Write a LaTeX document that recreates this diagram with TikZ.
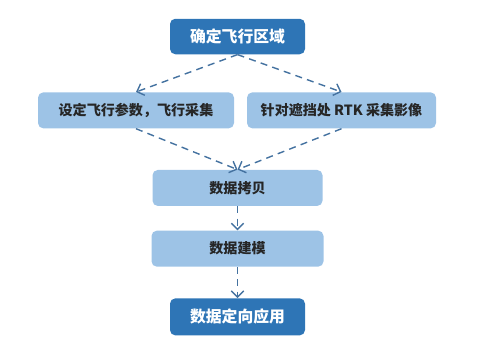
\documentclass[tikz,border=0pt]{standalone}
\usepackage{fontspec}
\newfontfamily\cjk{Noto Sans CJK SC}
\usepackage{xcolor}
\usepackage{tikz}
\usetikzlibrary{arrows.meta, positioning}
\definecolor{stepdark}{RGB}{46,117,182}
\definecolor{steplight}{RGB}{157,195,230}
\definecolor{flowline}{RGB}{68,114,160}

\begin{document}
\begin{tikzpicture}[
    darkbox/.style={rectangle, fill=stepdark, rounded corners=3pt, minimum width=2.7cm, minimum height=0.71cm, align=center, text=white, font=\cjk\bfseries\fontsize{9}{11}\selectfont},
    lightbox/.style={rectangle, fill=steplight, rounded corners=3pt, minimum height=0.72cm, align=center, text=black!85, font=\cjk\bfseries\fontsize{8}{10}\selectfont},
    flow/.style={-{Straight Barb[length=3.5pt, width=7pt]}, draw=flowline, line width=0.8pt, dash pattern=on 4pt off 3pt},
]
\useasboundingbox (0,0) rectangle (10,-6.98);

\node[darkbox] (region) at (4.75,-0.73) {确定飞行区域};

\node[lightbox, minimum width=3.92cm, anchor=north] (setparams) at (2.72,-1.84) {设定飞行参数，飞行采集};
\node[lightbox, minimum width=3.78cm, anchor=north] (rtk) at (6.83,-1.84) {针对遮挡处 RTK 采集影像};

\node[lightbox, minimum width=3.4cm, below=2.3cm of region] (copy) {数据拷贝};
\node[lightbox, minimum width=3.44cm, below=0.48cm of copy] (model) {数据建模};
\node[darkbox, minimum height=0.74cm, below=0.62cm of model] (apply) {数据定向应用};

\draw[flow] (region.south) -- (setparams.north);
\draw[flow] (region.south) -- (rtk.north);
\draw[flow] (setparams.south) -- (copy.north);
\draw[flow] (rtk.south) -- (copy.north);
\draw[flow] (copy) -- (model);
\draw[flow] (model) -- (apply);

\end{tikzpicture}
\end{document}
